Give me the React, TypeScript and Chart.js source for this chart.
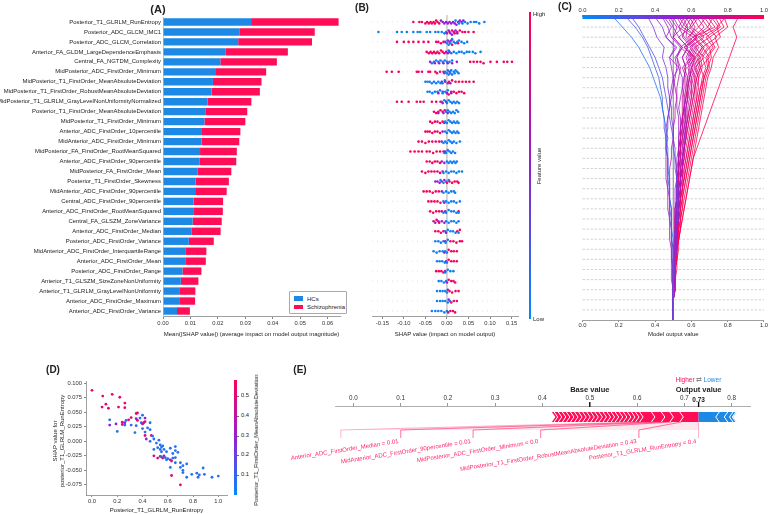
import React, { useEffect, useRef } from "react";
import { Chart, registerables } from "chart.js";
Chart.register(...registerables);

const FONT = "'Liberation Sans', Arial, Helvetica, sans-serif";
Chart.defaults.font.family = FONT;
Chart.defaults.color = "#333";

const BLUE = "#1E88E5";
const RED = "#FF0D57";

// ---------------- Panel A: mean |SHAP| ----------------
const featureNames = [
  "Posterior_T1_GLRLM_RunEntropy",
  "Posterior_ADC_GLCM_IMC1",
  "Posterior_ADC_GLCM_Correlation",
  "Anterior_FA_GLDM_LargeDependenceEmphasis",
  "Central_FA_NGTDM_Complexity",
  "MidPosterior_ADC_FirstOrder_Minimum",
  "MidPosterior_T1_FirstOrder_MeanAbsoluteDeviation",
  "MidPosterior_T1_FirstOrder_RobustMeanAbsoluteDeviation",
  "MidPosterior_T1_GLRLM_GrayLevelNonUniformityNormalized",
  "Posterior_T1_FirstOrder_MeanAbsoluteDeviation",
  "MidPosterior_T1_FirstOrder_Minimum",
  "Anterior_ADC_FirstOrder_10percentile",
  "MidAnterior_ADC_FirstOrder_Minimum",
  "MidPosterior_FA_FirstOrder_RootMeanSquared",
  "Anterior_ADC_FirstOrder_90percentile",
  "MidPosterior_FA_FirstOrder_Mean",
  "Posterior_T1_FirstOrder_Skewness",
  "MidAnterior_ADC_FirstOrder_90percentile",
  "Central_ADC_FirstOrder_90percentile",
  "Anterior_ADC_FirstOrder_RootMeanSquared",
  "Central_FA_GLSZM_ZoneVariance",
  "Anterior_ADC_FirstOrder_Median",
  "Posterior_ADC_FirstOrder_Variance",
  "MidAnterior_ADC_FirstOrder_InterquartileRange",
  "Anterior_ADC_FirstOrder_Mean",
  "Posterior_ADC_FirstOrder_Range",
  "Anterior_T1_GLSZM_SizeZoneNonUniformity",
  "Anterior_T1_GLRLM_GrayLevelNonUniformity",
  "Anterior_ADC_FirstOrder_Maximum",
  "Anterior_ADC_FirstOrder_Variance",
];
const hcImportance = [
  0.0321, 0.0278, 0.0274, 0.0229, 0.0209, 0.019, 0.0182, 0.0177, 0.0163, 0.0154,
  0.0151, 0.0142, 0.0141, 0.0135, 0.0134, 0.0125, 0.0119, 0.0117, 0.0111, 0.011,
  0.0108, 0.0105, 0.0094, 0.0081, 0.0081, 0.0071, 0.0065, 0.0059, 0.0059, 0.0051,
];
const szImportance = [
  0.0319, 0.0275, 0.0269, 0.0226, 0.0206, 0.0186, 0.0177, 0.0176, 0.0159, 0.0153,
  0.0149, 0.014, 0.0137, 0.0134, 0.0133, 0.0124, 0.0121, 0.0115, 0.0108, 0.0108,
  0.0106, 0.0105, 0.0091, 0.0077, 0.0075, 0.0069, 0.0064, 0.0059, 0.0058, 0.0047,
];
const aTicks = [0, 0.01, 0.02, 0.03, 0.04, 0.05, 0.06];

// ---------------- Panel B: beeswarm ----------------
const beeHigh: number[][] = [
  [-0.078, -0.064, -0.058, -0.05, -0.046, -0.042, -0.038, -0.035, -0.031, -0.028, -0.025, -0.022, -0.018],
  [0.006, 0.012, 0.018, 0.024, 0.03, 0.036, 0.042, 0.05, 0.062],
  [-0.116, -0.1, -0.089, -0.078, -0.066, -0.054, -0.043, -0.025, -0.02, -0.014, -0.008, 0.012, 0.026],
  [-0.047, -0.042, -0.038, -0.034, -0.03, -0.026, -0.022, -0.018, -0.014, -0.01, -0.006],
  [0.054, 0.062, 0.07, 0.078, 0.085, 0.101, 0.116, 0.132, 0.14, 0.151],
  [-0.14, -0.128, -0.112, -0.07, -0.066, -0.058, -0.043, -0.039, -0.027, -0.023, -0.016, -0.008],
  [0.005, 0.012, 0.02, 0.028, 0.036, 0.044, 0.052, 0.062],
  [0.004, 0.01, 0.016, 0.022, 0.028, 0.034, 0.04],
  [-0.116, -0.105, -0.089, -0.07, -0.062, -0.054, -0.035, -0.025, -0.015],
  [-0.03, -0.025, -0.02, -0.015, -0.01, -0.005],
  [-0.039, -0.034, -0.028, -0.022, -0.016, -0.01],
  [-0.05, -0.045, -0.04, -0.034, -0.028, -0.022, -0.016],
  [-0.066, -0.058, -0.05, -0.042, -0.034, -0.026, -0.018],
  [-0.085, -0.075, -0.066, -0.058, -0.047, -0.04, -0.032, -0.024, -0.016, -0.008],
  [-0.047, -0.04, -0.034, -0.028, -0.022, -0.016],
  [-0.058, -0.05, -0.043, -0.036, -0.029, -0.022, -0.016],
  [0.0, 0.006, 0.012, 0.018, 0.024, 0.027],
  [-0.054, -0.047, -0.04, -0.033, -0.026, -0.019],
  [-0.043, -0.036, -0.029, -0.022, -0.015],
  [-0.039, -0.032, -0.025, -0.018, -0.012, 0.027],
  [-0.031, -0.024, -0.018],
  [-0.027, -0.02, -0.014, -0.008, 0.024, 0.03],
  [0.008, 0.015, 0.022, 0.03, 0.035],
  [0.004, 0.01, 0.016, 0.023],
  [0.004, 0.01, 0.016, 0.023],
  [-0.025, -0.019, -0.013, -0.008],
  [0.004, 0.01, 0.015, 0.019],
  [0.006, 0.012, 0.02, 0.027],
  [0.01, 0.016, 0.023],
  [0.008, 0.014, 0.019],
];
const beeMid: number[][] = [
  [-0.014, -0.01, -0.006, -0.002, 0.002, 0.006, 0.01, 0.014, 0.018, 0.022, 0.026, 0.03, 0.034, 0.038],
  [0.0, 0.004, 0.008, 0.012, 0.016, 0.02, 0.024],
  [-0.004, 0.002, 0.006, 0.01],
  [-0.002, 0.002, 0.006],
  [-0.039, -0.028, -0.018, -0.008, 0.002, 0.012, 0.023],
  [-0.006, 0.006],
  [-0.012, -0.004, 0.002, 0.008],
  [-0.02, -0.01, 0.0, 0.01],
  [-0.01, -0.002],
  [-0.02, -0.008, 0.002],
  [-0.006],
  [-0.01],
  [-0.012],
  [-0.004],
  [-0.012, -0.006],
  [-0.01],
  [-0.027, -0.022, -0.017, -0.012, -0.006],
  [-0.012],
  [-0.006],
  [-0.004],
  [-0.027, -0.02, -0.012, -0.006],
  [-0.002],
  [-0.004],
  [-0.006],
  [-0.002],
  [-0.004],
  [0.0],
  [0.002],
  [0.004],
  [0.003],
];
const beeLow: number[][] = [
  [0.02, 0.028, 0.036, 0.042, 0.048, 0.055, 0.063, 0.068, 0.075, 0.087],
  [-0.159, -0.116, -0.105, -0.093, -0.078, -0.068, -0.062, -0.047, -0.039, -0.027, -0.02, -0.012, -0.006, -0.002],
  [0.0, 0.004, 0.008, 0.012, 0.016, 0.02, 0.024, 0.028, 0.034, 0.04, 0.047],
  [0.004, 0.01, 0.016, 0.022, 0.028, 0.034, 0.04, 0.046, 0.052, 0.06, 0.066, 0.078],
  [-0.035, -0.03, -0.025, -0.02, -0.015, -0.01, -0.005, 0.0, 0.006, 0.012],
  [-0.004, 0.0, 0.002, 0.004, 0.008, 0.01, 0.012, 0.016, 0.018, 0.02, 0.024, 0.027],
  [-0.05, -0.045, -0.04, -0.035, -0.03, -0.025, -0.02, -0.015, -0.01, -0.005],
  [-0.045, -0.04, -0.034, -0.028, -0.022, -0.016, -0.01, -0.004, 0.002],
  [-0.012, -0.006, 0.0, 0.004, 0.008, 0.012, 0.016, 0.02, 0.024, 0.028],
  [-0.002, 0.002, 0.006, 0.01, 0.014, 0.018, 0.022, 0.026],
  [-0.004, 0.0, 0.004, 0.008, 0.012, 0.016, 0.02, 0.024, 0.027],
  [-0.004, 0.0, 0.004, 0.008, 0.012, 0.016, 0.02, 0.024, 0.027],
  [-0.008, -0.004, 0.0, 0.004, 0.008, 0.012, 0.016, 0.022, 0.03],
  [-0.006, -0.002, 0.002, 0.006, 0.01, 0.014, 0.019],
  [0.0, 0.004, 0.008, 0.012, 0.016, 0.02, 0.023],
  [-0.008, -0.002, 0.004, 0.01, 0.016, 0.022, 0.028, 0.035],
  [-0.015, -0.008, -0.002, 0.004],
  [-0.008, -0.002, 0.004, 0.01, 0.016, 0.019],
  [-0.008, -0.002, 0.004, 0.01, 0.016, 0.022, 0.03],
  [-0.008, -0.002, 0.004, 0.01, 0.016, 0.022, 0.027],
  [-0.002, 0.004, 0.01, 0.016, 0.022, 0.027],
  [-0.004, 0.002, 0.008, 0.014, 0.02, 0.027],
  [-0.027, -0.02, -0.014, -0.008, -0.003, 0.002],
  [-0.031, -0.024, -0.017, -0.01, -0.004, 0.0],
  [-0.023, -0.017, -0.011, -0.005, 0.0],
  [-0.004, 0.002, 0.008, 0.015],
  [-0.019, -0.013, -0.007, -0.002],
  [-0.023, -0.016, -0.01, -0.004, 0.0],
  [-0.023, -0.016, -0.01, -0.004, 0.002, 0.007],
  [-0.035, -0.027, -0.02, -0.013, -0.006, 0.0],
];
const bTicks = [-0.15, -0.1, -0.05, 0, 0.05, 0.1, 0.15];

// ---------------- Panel C: decision plot (bottom -> top cumulative output) ----------------
const decisionPaths: number[][] = [
  [0.5,0.5,0.5,0.5,0.5,0.5,0.5,0.5,0.5,0.49,0.49,0.49,0.48,0.48,0.48,0.47,0.47,0.47,0.46,0.46,0.45,0.44,0.43,0.41,0.39,0.37,0.34,0.31,0.27,0.22,0.17],
  [0.5,0.5,0.5,0.5,0.5,0.5,0.5,0.5,0.49,0.49,0.49,0.48,0.48,0.48,0.47,0.47,0.47,0.46,0.46,0.45,0.45,0.44,0.44,0.43,0.42,0.4,0.38,0.36,0.33,0.29,0.24],
  [0.5,0.5,0.5,0.5,0.5,0.51,0.51,0.51,0.51,0.51,0.52,0.52,0.52,0.52,0.52,0.51,0.51,0.5,0.5,0.49,0.48,0.47,0.46,0.45,0.44,0.42,0.4,0.37,0.34,0.31,0.27],
  [0.5,0.5,0.5,0.51,0.51,0.51,0.51,0.52,0.52,0.52,0.53,0.53,0.53,0.53,0.52,0.52,0.51,0.51,0.5,0.5,0.49,0.49,0.48,0.47,0.47,0.46,0.44,0.45,0.41,0.39,0.36],
  [0.5,0.5,0.5,0.5,0.5,0.5,0.49,0.49,0.49,0.49,0.48,0.48,0.48,0.47,0.47,0.47,0.47,0.46,0.47,0.46,0.47,0.48,0.48,0.49,0.5,0.49,0.48,0.51,0.46,0.44,0.4],
  [0.5,0.5,0.5,0.5,0.51,0.51,0.51,0.51,0.52,0.52,0.52,0.53,0.53,0.54,0.54,0.55,0.55,0.56,0.56,0.57,0.57,0.56,0.56,0.55,0.55,0.53,0.52,0.54,0.49,0.47,0.44],
  [0.5,0.5,0.5,0.5,0.5,0.5,0.51,0.51,0.51,0.51,0.51,0.51,0.52,0.52,0.52,0.52,0.53,0.53,0.53,0.54,0.54,0.53,0.54,0.55,0.56,0.57,0.55,0.58,0.53,0.5,0.47],
  [0.5,0.5,0.5,0.5,0.5,0.51,0.51,0.51,0.52,0.52,0.52,0.53,0.53,0.53,0.54,0.54,0.55,0.55,0.56,0.56,0.57,0.57,0.58,0.58,0.59,0.6,0.58,0.61,0.56,0.53,0.5],
  [0.5,0.5,0.5,0.5,0.5,0.5,0.5,0.5,0.49,0.49,0.49,0.49,0.48,0.48,0.48,0.48,0.49,0.49,0.5,0.5,0.51,0.51,0.52,0.52,0.53,0.54,0.52,0.55,0.5,0.55,0.52],
  [0.5,0.5,0.5,0.51,0.51,0.51,0.51,0.51,0.52,0.52,0.52,0.52,0.53,0.53,0.54,0.54,0.54,0.55,0.55,0.56,0.56,0.57,0.58,0.58,0.59,0.61,0.59,0.62,0.57,0.58,0.55],
  [0.5,0.5,0.5,0.5,0.5,0.5,0.5,0.51,0.51,0.51,0.51,0.52,0.52,0.52,0.53,0.53,0.53,0.53,0.54,0.54,0.55,0.55,0.55,0.56,0.56,0.57,0.55,0.58,0.53,0.6,0.57],
  [0.5,0.5,0.5,0.5,0.51,0.51,0.51,0.52,0.52,0.52,0.53,0.53,0.54,0.54,0.55,0.55,0.56,0.56,0.57,0.57,0.58,0.59,0.6,0.6,0.61,0.63,0.61,0.64,0.59,0.62,0.59],
  [0.5,0.5,0.5,0.5,0.5,0.5,0.51,0.51,0.51,0.51,0.52,0.52,0.52,0.53,0.53,0.53,0.54,0.54,0.55,0.56,0.57,0.57,0.58,0.59,0.6,0.62,0.6,0.63,0.58,0.64,0.61],
  [0.5,0.5,0.5,0.5,0.5,0.51,0.51,0.51,0.51,0.52,0.52,0.52,0.52,0.53,0.53,0.54,0.55,0.56,0.57,0.58,0.59,0.6,0.61,0.62,0.62,0.64,0.62,0.66,0.61,0.67,0.63],
  [0.5,0.5,0.5,0.5,0.51,0.51,0.51,0.51,0.52,0.52,0.52,0.53,0.53,0.54,0.54,0.55,0.56,0.56,0.57,0.58,0.59,0.6,0.61,0.62,0.63,0.65,0.64,0.67,0.62,0.69,0.65],
  [0.5,0.5,0.5,0.5,0.5,0.5,0.51,0.51,0.52,0.52,0.53,0.53,0.54,0.55,0.55,0.56,0.57,0.58,0.59,0.6,0.61,0.62,0.63,0.64,0.64,0.66,0.65,0.69,0.64,0.71,0.67],
  [0.5,0.5,0.5,0.51,0.51,0.51,0.51,0.52,0.52,0.52,0.53,0.53,0.54,0.54,0.55,0.55,0.56,0.57,0.58,0.59,0.6,0.61,0.62,0.62,0.63,0.65,0.63,0.66,0.61,0.73,0.69],
  [0.5,0.5,0.5,0.5,0.5,0.51,0.51,0.51,0.52,0.52,0.53,0.53,0.54,0.55,0.56,0.57,0.58,0.59,0.6,0.61,0.62,0.63,0.64,0.65,0.66,0.68,0.66,0.7,0.65,0.75,0.71],
  [0.5,0.5,0.5,0.5,0.51,0.51,0.52,0.52,0.53,0.53,0.54,0.54,0.55,0.56,0.57,0.58,0.59,0.6,0.61,0.62,0.63,0.64,0.65,0.66,0.67,0.69,0.68,0.72,0.68,0.76,0.73],
  [0.5,0.5,0.5,0.51,0.51,0.51,0.52,0.52,0.53,0.54,0.54,0.55,0.56,0.57,0.58,0.59,0.6,0.61,0.62,0.63,0.64,0.65,0.66,0.67,0.68,0.7,0.69,0.73,0.7,0.78,0.75],
  [0.5,0.5,0.5,0.5,0.51,0.51,0.52,0.52,0.53,0.54,0.55,0.56,0.57,0.58,0.59,0.6,0.61,0.62,0.63,0.64,0.65,0.66,0.67,0.68,0.69,0.71,0.72,0.75,0.73,0.8,0.78],
  [0.5,0.5,0.5,0.51,0.51,0.52,0.52,0.53,0.53,0.54,0.55,0.56,0.57,0.58,0.59,0.6,0.61,0.63,0.65,0.67,0.69,0.71,0.73,0.75,0.77,0.79,0.81,0.83,0.85,0.83,0.86],
  [0.5,0.5,0.5,0.5,0.5,0.5,0.5,0.51,0.51,0.51,0.51,0.51,0.52,0.52,0.52,0.53,0.53,0.53,0.54,0.54,0.55,0.56,0.57,0.58,0.59,0.6,0.62,0.57,0.64,0.59,0.62],
  [0.5,0.5,0.5,0.5,0.5,0.51,0.51,0.52,0.52,0.53,0.53,0.54,0.55,0.55,0.56,0.57,0.58,0.59,0.6,0.61,0.62,0.63,0.64,0.65,0.67,0.69,0.71,0.7,0.76,0.74,0.79],
  [0.5,0.5,0.5,0.5,0.49,0.49,0.49,0.49,0.48,0.48,0.48,0.47,0.47,0.47,0.46,0.46,0.46,0.46,0.46,0.47,0.47,0.48,0.49,0.5,0.51,0.52,0.51,0.55,0.5,0.52,0.48],
  [0.5,0.5,0.5,0.5,0.5,0.5,0.5,0.51,0.51,0.51,0.51,0.52,0.52,0.52,0.53,0.53,0.54,0.54,0.55,0.55,0.56,0.56,0.57,0.57,0.58,0.59,0.57,0.6,0.55,0.57,0.53],
  [0.5,0.5,0.5,0.5,0.5,0.5,0.51,0.51,0.51,0.52,0.52,0.52,0.53,0.53,0.54,0.55,0.55,0.56,0.56,0.57,0.58,0.58,0.59,0.6,0.6,0.58,0.62,0.56,0.63,0.55,0.58],
  [0.5,0.5,0.5,0.5,0.5,0.51,0.51,0.51,0.52,0.52,0.53,0.53,0.53,0.54,0.54,0.55,0.55,0.56,0.57,0.57,0.58,0.59,0.6,0.61,0.62,0.6,0.65,0.59,0.67,0.6,0.64],
  [0.5,0.5,0.5,0.5,0.51,0.51,0.51,0.52,0.52,0.53,0.53,0.54,0.54,0.55,0.56,0.56,0.57,0.58,0.59,0.6,0.61,0.62,0.63,0.63,0.64,0.62,0.67,0.62,0.7,0.64,0.68],
  [0.5,0.5,0.5,0.51,0.51,0.51,0.52,0.52,0.53,0.53,0.54,0.55,0.55,0.56,0.57,0.58,0.59,0.6,0.61,0.62,0.63,0.64,0.65,0.66,0.67,0.65,0.7,0.66,0.74,0.69,0.72],
  [0.5,0.5,0.5,0.5,0.5,0.5,0.5,0.5,0.51,0.51,0.51,0.51,0.51,0.51,0.52,0.52,0.52,0.53,0.53,0.53,0.53,0.52,0.52,0.51,0.5,0.53,0.48,0.52,0.46,0.49,0.45],
  [0.5,0.5,0.5,0.5,0.5,0.5,0.5,0.5,0.51,0.51,0.51,0.51,0.52,0.52,0.52,0.53,0.53,0.54,0.54,0.55,0.55,0.56,0.57,0.58,0.58,0.56,0.61,0.56,0.63,0.57,0.6],
  [0.5,0.5,0.5,0.5,0.5,0.5,0.51,0.51,0.51,0.51,0.52,0.52,0.52,0.52,0.53,0.53,0.53,0.54,0.54,0.55,0.55,0.56,0.56,0.57,0.57,0.55,0.6,0.54,0.61,0.53,0.56],
];
const cTicks = [0, 0.2, 0.4, 0.6, 0.8, 1.0];

// ---------------- Panel D: dependence plot ----------------
const dependX = [0.0,0.085,0.16,0.22,0.11,0.08,0.13,0.21,0.26,0.26,0.14,0.14,0.19,0.2,0.24,0.24,0.26,0.27,0.29,0.26,0.31,0.31,0.34,0.35,0.35,0.35,0.36,0.36,0.38,0.4,0.39,0.4,0.4,0.41,0.42,0.42,0.44,0.46,0.46,0.42,0.42,0.43,0.46,0.47,0.48,0.49,0.51,0.53,0.54,0.49,0.52,0.54,0.55,0.56,0.55,0.57,0.59,0.62,0.66,0.66,0.68,0.64,0.49,0.52,0.54,0.55,0.56,0.57,0.58,0.59,0.6,0.62,0.63,0.64,0.66,0.62,0.66,0.7,0.72,0.7,0.72,0.75,0.63,0.72,0.79,0.85,0.88,0.89,0.75,0.84,0.95,1.0,0.7,0.83];
const dependY = [0.088,0.078,0.081,0.076,0.064,0.059,0.057,0.059,0.066,0.058,0.037,0.028,0.03,0.017,0.029,0.033,0.032,0.036,0.037,0.028,0.041,0.028,0.015,0.027,0.039,0.048,0.049,0.036,0.04,0.045,0.032,0.03,0.022,0.032,0.04,0.034,0.023,0.02,0.032,0.016,0.01,0.004,0.0,0.01,0.009,0.004,-0.003,0.002,-0.006,-0.014,-0.011,-0.014,-0.01,-0.008,-0.018,-0.014,-0.018,-0.012,-0.009,-0.016,-0.019,-0.021,-0.025,-0.029,-0.026,-0.027,-0.029,-0.025,-0.028,-0.032,-0.03,-0.032,-0.034,-0.029,-0.028,-0.045,-0.037,-0.037,-0.042,-0.045,-0.05,-0.039,-0.059,-0.054,-0.057,-0.058,-0.046,-0.057,-0.062,-0.062,-0.062,-0.06,-0.075,-0.055];
const dependFeat = [0.52,0.5,0.54,0.5,0.48,0.52,0.5,0.47,0.53,0.5,0.08,0.3,0.28,0.06,0.5,0.47,0.3,0.08,0.52,0.07,0.5,0.08,0.06,0.07,0.3,0.55,0.5,0.48,0.08,0.07,0.06,0.5,0.07,0.5,0.3,0.47,0.07,0.06,0.08,0.07,0.5,0.3,0.07,0.5,0.06,0.07,0.08,0.06,0.07,0.06,0.08,0.07,0.06,0.07,0.08,0.07,0.06,0.07,0.08,0.06,0.07,0.08,0.5,0.48,0.52,0.07,0.5,0.47,0.06,0.07,0.08,0.3,0.5,0.07,0.06,0.07,0.08,0.06,0.07,0.06,0.07,0.08,0.52,0.07,0.06,0.08,0.07,0.06,0.07,0.08,0.06,0.07,0.55,0.07];
const dXTicks = [0, 0.2, 0.4, 0.6, 0.8, 1.0];
const dYTicks = [-0.075, -0.05, -0.025, 0, 0.025, 0.05, 0.075, 0.1];
const dColorTicks = [0.1, 0.2, 0.3, 0.4, 0.5];

// ---------------- Panel E: force plot ----------------
const forceBase = 0.5;
const forceOutput = 0.73;
const forceRedShap = [
  0.0086, 0.0086, 0.0086, 0.0086, 0.0086, 0.0086, 0.0086, 0.0086, 0.0086, 0.0086, 0.0086,
  0.0086, 0.0086, 0.0086, 0.0086, 0.0086, 0.0086, 0.0086, 0.0086, 0.0086, 0.0086, 0.0086,
  0.025, 0.021, 0.018, 0.021, 0.036,
];
const forceRedLabels = [
  "", "", "", "", "", "", "", "", "", "", "", "", "", "", "", "", "", "", "", "", "", "",
  "Anterior_ADC_FirstOrder_Median = 0.01",
  "MidAnterior_ADC_FirstOrder_90percentile = 0.01",
  "MidPosterior_ADC_FirstOrder_Minimum = 0.0",
  "MidPosterior_T1_FirstOrder_RobustMeanAbsoluteDeviation = 0.43",
  "Posterior_T1_GLRLM_RunEntropy = 0.4",
];
const forceBlueShap = [0.04, 0.018, 0.011, 0.006, 0.005];
const eTicks = [0, 0.1, 0.2, 0.3, 0.4, 0.5, 0.6, 0.7, 0.8];

// ---------------- helpers ----------------
const CSTOPS = [
  [0, 0, 138, 250],
  [0.5, 150, 30, 210],
  [1, 255, 0, 82],
];
function cmap(t: number): string {
  t = Math.max(0, Math.min(1, t));
  for (let i = 0; i < CSTOPS.length - 1; i++) {
    const a = CSTOPS[i], b = CSTOPS[i + 1];
    if (t <= b[0]) {
      const f = (t - a[0]) / (b[0] - a[0]);
      const r = Math.round(a[1] + (b[1] - a[1]) * f);
      const g = Math.round(a[2] + (b[2] - a[2]) * f);
      const bl = Math.round(a[3] + (b[3] - a[3]) * f);
      return `rgb(${r},${g},${bl})`;
    }
  }
  return "rgb(255,0,82)";
}
const GRAD = `linear-gradient(to top, ${cmap(0)}, ${cmap(0.5)}, ${cmap(1)})`;

function swarmPoints() {
  const pts: any[] = [];
  const cols: string[] = [];
  const binW = 0.009, step = 0.14;
  for (let r = 0; r < 30; r++) {
    const items: { v: number; c: number }[] = [];
    beeHigh[r].forEach((v) => items.push({ v, c: 0.95 }));
    beeMid[r].forEach((v) => items.push({ v, c: 0.5 }));
    beeLow[r].forEach((v) => items.push({ v, c: 0.05 }));
    items.sort((a, b) => a.v - b.v);
    const counts = new Map<number, number>();
    items.forEach((it) => {
      const b = Math.round(it.v / binW);
      const k = counts.get(b) || 0;
      counts.set(b, k + 1);
      const off = (k % 2 === 1 ? 1 : -1) * Math.ceil(k / 2) * step;
      pts.push({ x: it.v, y: r + 0.5 + Math.max(-0.36, Math.min(0.36, off)) });
      cols.push(cmap(it.c));
    });
  }
  return { pts, cols };
}

const fixTicks = (vals: number[]) => (s: any) => {
  s.ticks = vals.map((v) => ({ value: v }));
};

// ---------------- plugins ----------------
const beePlugin = {
  id: "beeBg",
  beforeDatasetsDraw(chart: any) {
    const { ctx, chartArea, scales } = chart;
    ctx.save();
    ctx.strokeStyle = "#cccccc";
    ctx.lineWidth = 0.6;
    ctx.setLineDash([1, 4]);
    for (let r = 0; r < 30; r++) {
      const y = scales.y.getPixelForValue(r + 0.5);
      ctx.beginPath();
      ctx.moveTo(chartArea.left, y);
      ctx.lineTo(chartArea.right, y);
      ctx.stroke();
    }
    ctx.setLineDash([]);
    ctx.strokeStyle = "#999";
    ctx.lineWidth = 0.8;
    const x0 = scales.x.getPixelForValue(0);
    ctx.beginPath();
    ctx.moveTo(x0, chartArea.top - 2);
    ctx.lineTo(x0, chartArea.bottom);
    ctx.stroke();
    ctx.restore();
  },
};

const decisionPlugin = {
  id: "decisionBg",
  beforeDatasetsDraw(chart: any) {
    const { ctx, chartArea, scales } = chart;
    ctx.save();
    ctx.strokeStyle = "#b5b5b5";
    ctx.lineWidth = 0.6;
    ctx.setLineDash([2.5, 1.5]);
    for (let i = 1; i < 30; i++) {
      const y = scales.y.getPixelForValue(i);
      ctx.beginPath();
      ctx.moveTo(chartArea.left, y);
      ctx.lineTo(chartArea.right, y);
      ctx.stroke();
    }
    ctx.setLineDash([]);
    ctx.strokeStyle = "#777";
    ctx.lineWidth = 0.9;
    const xm = scales.x.getPixelForValue(0.5);
    ctx.beginPath();
    ctx.moveTo(xm, chartArea.top);
    ctx.lineTo(xm, chartArea.bottom);
    ctx.stroke();
    ctx.restore();
  },
  afterDatasetsDraw(chart: any) {
    const { ctx, chartArea, scales } = chart;
    const x0 = scales.x.getPixelForValue(0);
    const x1 = scales.x.getPixelForValue(1);
    const g = ctx.createLinearGradient(x0, 0, x1, 0);
    g.addColorStop(0, cmap(0));
    g.addColorStop(0.5, cmap(0.5));
    g.addColorStop(1, cmap(1));
    ctx.save();
    ctx.fillStyle = g;
    ctx.fillRect(x0, chartArea.top - 2, x1 - x0, 4);
    ctx.restore();
  },
};

const forcePlugin = {
  id: "forcePlot",
  afterDraw(chart: any) {
    const { ctx, scales } = chart;
    const px = (v: number) => scales.x.getPixelForValue(v);
    const top = 72, bot = 82, mid = 77, d = 3.5, bracketY = 90, tickY = 98;
    const redTotal = forceRedShap.reduce((a, b) => a + b, 0);
    const redBounds = [forceOutput - redTotal];
    forceRedShap.forEach((s) => redBounds.push(redBounds[redBounds.length - 1] + s));
    const blueBounds = [forceOutput];
    forceBlueShap.forEach((s) => blueBounds.push(blueBounds[blueBounds.length - 1] + s));
    ctx.save();
    // connectors and labels
    ctx.font = `6px ${FONT}`;
    let right = px(forceOutput);
    for (let i = forceRedLabels.length - 1; i >= 0; i--) {
      const label = forceRedLabels[i];
      if (!label) continue;
      const w = ctx.measureText(label).width * 0.55;
      const bR = right, bL = right - w;
      const sL = px(redBounds[i]), sR = px(redBounds[i + 1]);
      ctx.fillStyle = "rgba(255,13,87,0.10)";
      ctx.beginPath();
      ctx.moveTo(sL, bot);
      ctx.lineTo(sR, bot);
      ctx.lineTo(bR, bracketY);
      ctx.lineTo(bL, bracketY);
      ctx.closePath();
      ctx.fill();
      ctx.strokeStyle = "rgba(255,13,87,0.45)";
      ctx.lineWidth = 0.7;
      ctx.beginPath();
      ctx.moveTo(sL, bot);
      ctx.lineTo(bL, bracketY);
      ctx.lineTo(bL, tickY);
      ctx.moveTo(sR, bot);
      ctx.lineTo(bR, bracketY);
      ctx.lineTo(bR, tickY);
      ctx.stroke();
      ctx.save();
      ctx.translate(bR - 2, 103);
      ctx.rotate((-9 * Math.PI) / 180);
      ctx.textAlign = "right";
      ctx.textBaseline = "alphabetic";
      ctx.fillStyle = "rgba(255,13,87,0.9)";
      ctx.fillText(label, 0, 0);
      ctx.restore();
      right = bL;
    }
    // red bar
    const rx0 = px(redBounds[0]), rx1 = px(forceOutput);
    ctx.fillStyle = RED;
    ctx.beginPath();
    ctx.moveTo(rx0, top);
    ctx.lineTo(rx1, top);
    ctx.lineTo(rx1, bot);
    ctx.lineTo(rx0, bot);
    ctx.lineTo(rx0 + d, mid);
    ctx.closePath();
    ctx.fill();
    ctx.strokeStyle = "#fff";
    ctx.lineWidth = 1;
    for (let i = 1; i < redBounds.length - 1; i++) {
      const x = px(redBounds[i]);
      ctx.beginPath();
      ctx.moveTo(x - d / 2, top);
      ctx.lineTo(x + d / 2, mid);
      ctx.lineTo(x - d / 2, bot);
      ctx.stroke();
    }
    // blue bar
    const bx0 = px(forceOutput), bx1 = px(blueBounds[blueBounds.length - 1]);
    ctx.fillStyle = BLUE;
    ctx.beginPath();
    ctx.moveTo(bx0, top);
    ctx.lineTo(bx1, top);
    ctx.lineTo(bx1 - d, mid);
    ctx.lineTo(bx1, bot);
    ctx.lineTo(bx0, bot);
    ctx.closePath();
    ctx.fill();
    for (let i = 1; i < blueBounds.length - 1; i++) {
      const x = px(blueBounds[i]);
      ctx.beginPath();
      ctx.moveTo(x + d / 2, top);
      ctx.lineTo(x - d / 2, mid);
      ctx.lineTo(x + d / 2, bot);
      ctx.stroke();
    }
    // base / output markers
    const xb = px(forceBase), xo = px(forceOutput);
    ctx.strokeStyle = "#000";
    ctx.lineWidth = 1.3;
    ctx.beginPath();
    ctx.moveTo(xb, 62);
    ctx.lineTo(xb, 67);
    ctx.moveTo(xo, 62);
    ctx.lineTo(xo, 67);
    ctx.stroke();
    ctx.fillStyle = "#222";
    ctx.textAlign = "center";
    ctx.textBaseline = "middle";
    ctx.font = `bold 6.5px ${FONT}`;
    ctx.fillText(forceOutput.toFixed(2), xo, 60.5);
    ctx.font = `bold 7.5px ${FONT}`;
    ctx.fillText("Base value", xb, 50);
    ctx.fillText("Output value", xo, 50);
    ctx.font = `6.5px ${FONT}`;
    ctx.textAlign = "right";
    ctx.fillStyle = RED;
    ctx.fillText("Higher", xo - 4, 40);
    ctx.textAlign = "center";
    ctx.fillStyle = "#888";
    ctx.fillText("\u21C4", xo + 0.5, 40);
    ctx.textAlign = "left";
    ctx.fillStyle = BLUE;
    ctx.fillText("Lower", xo + 5, 40);
    ctx.restore();
  },
};

// ---------------- text helper ----------------
function Txt(props: any) {
  const { x, y, children, size = 6, bold = false, color = "#222", rotate = 0, align = "center" } = props;
  const tx = align === "center" ? "-50%" : align === "right" ? "-100%" : "0";
  return (
    <div
      style={{
        position: "absolute",
        left: x,
        top: y,
        transform: `translate(${tx}, -50%) rotate(${rotate}deg)`,
        fontSize: size,
        fontWeight: bold ? 700 : 400,
        color,
        whiteSpace: "nowrap",
        lineHeight: 1,
        fontFamily: FONT,
      }}
    >
      {children}
    </div>
  );
}

export default function App() {
  const refA = useRef<HTMLCanvasElement>(null);
  const refB = useRef<HTMLCanvasElement>(null);
  const refC = useRef<HTMLCanvasElement>(null);
  const refD = useRef<HTMLCanvasElement>(null);
  const refE = useRef<HTMLCanvasElement>(null);

  useEffect(() => {
    const charts: Chart[] = [];
    const tickFont = { size: 5.8 };

    // A
    charts.push(
      new Chart(refA.current!, {
        type: "bar",
        data: {
          labels: featureNames,
          datasets: [
            { label: "HCs", data: hcImportance, backgroundColor: BLUE, barPercentage: 0.74, categoryPercentage: 1 },
            { label: "Schizophrenia", data: szImportance, backgroundColor: RED, barPercentage: 0.74, categoryPercentage: 1 },
          ],
        },
        options: {
          responsive: false,
          animation: false,
          indexAxis: "y",
          layout: { padding: { top: 17, right: 5, left: 0, bottom: 0 } },
          plugins: { legend: { display: false }, tooltip: { enabled: false } },
          scales: {
            x: {
              stacked: true,
              min: 0,
              max: 0.0645,
              afterBuildTicks: fixTicks(aTicks),
              afterFit: (s: any) => { s.height = 22; },
              ticks: { callback: (v: any) => Number(v).toFixed(2), font: tickFont, color: "#333", padding: 1, maxRotation: 0 },
              grid: { drawOnChartArea: false, tickLength: 3, color: "#888" },
              border: { color: "#888", width: 0.8 },
              title: { display: true, text: "Mean(|SHAP value|) (average impact on model output magnitude)", font: { size: 6 }, color: "#222", padding: 0 },
            },
            y: {
              stacked: true,
              afterFit: (s: any) => { s.width = 163; },
              ticks: { autoSkip: false, font: { size: 5.9 }, color: "#222", padding: 2 },
              grid: { display: false, drawTicks: false },
              border: { color: "#bbb", width: 0.8 },
            },
          },
        } as any,
      })
    );

    // B
    const sw = swarmPoints();
    charts.push(
      new Chart(refB.current!, {
        type: "scatter",
        data: {
          datasets: [
            { data: sw.pts, backgroundColor: sw.cols, pointRadius: 1.3, pointBorderWidth: 0, pointHoverRadius: 1.3 },
          ],
        },
        options: {
          responsive: false,
          animation: false,
          layout: { padding: { top: 17, right: 5, left: 27, bottom: 0 } },
          plugins: { legend: { display: false }, tooltip: { enabled: false } },
          scales: {
            x: {
              min: -0.174,
              max: 0.165,
              afterBuildTicks: fixTicks(bTicks),
              afterFit: (s: any) => { s.height = 22; },
              ticks: { callback: (v: any) => Number(v).toFixed(2), font: tickFont, color: "#333", padding: 1, maxRotation: 0 },
              grid: { drawOnChartArea: false, tickLength: 3, color: "#888" },
              border: { color: "#888", width: 0.8 },
              title: { display: true, text: "SHAP value (impact on model output)", font: { size: 6 }, color: "#222", padding: 0 },
            },
            y: { display: false, min: 0, max: 30, reverse: true },
          },
        } as any,
        plugins: [beePlugin],
      })
    );

    // C
    charts.push(
      new Chart(refC.current!, {
        type: "scatter",
        data: {
          datasets: decisionPaths.map((path) => ({
            data: path.map((v, i) => ({ x: v, y: i })),
            showLine: true,
            borderColor: cmap((path[path.length - 1] - 0.1) / 0.64),
            borderWidth: 0.8,
            pointRadius: 0,
            tension: 0,
          })),
        },
        options: {
          responsive: false,
          animation: false,
          layout: { padding: { top: 0, right: 4, left: 37.5, bottom: 0 } },
          plugins: { legend: { display: false }, tooltip: { enabled: false } },
          scales: {
            x: {
              min: 0,
              max: 1,
              position: "bottom",
              afterBuildTicks: fixTicks(cTicks),
              afterFit: (s: any) => { s.height = 18; },
              ticks: { callback: (v: any) => Number(v).toFixed(1), font: tickFont, color: "#333", padding: 0, maxRotation: 0 },
              grid: { drawOnChartArea: false, tickLength: 2, color: "#888" },
              border: { color: "#888", width: 0.8 },
              title: { display: true, text: "Model output value", font: { size: 6 }, color: "#222", padding: 0 },
            },
            x2: {
              type: "linear",
              min: 0,
              max: 1,
              position: "top",
              afterBuildTicks: fixTicks(cTicks),
              afterFit: (s: any) => { s.height = 17; },
              ticks: { callback: (v: any) => Number(v).toFixed(1), font: tickFont, color: "#333", padding: 1, maxRotation: 0 },
              grid: { drawOnChartArea: false, tickLength: 2, color: "#888" },
              border: { display: false },
            },
            y: { display: false, min: 0, max: 30 },
          },
        } as any,
        plugins: [decisionPlugin],
      })
    );

    // D
    charts.push(
      new Chart(refD.current!, {
        type: "scatter",
        data: {
          datasets: [
            {
              data: dependX.map((x, i) => ({ x, y: dependY[i] })),
              backgroundColor: dependFeat.map((f) => cmap(f / 0.58)),
              pointRadius: 1.4,
              pointBorderWidth: 0,
            },
          ],
        },
        options: {
          responsive: false,
          animation: false,
          layout: { padding: { top: 41.7, right: 5, left: 0, bottom: 0 } },
          plugins: { legend: { display: false }, tooltip: { enabled: false } },
          scales: {
            x: {
              min: -0.0475,
              max: 1.069,
              afterBuildTicks: fixTicks(dXTicks),
              afterFit: (s: any) => { s.height = 19; },
              ticks: { callback: (v: any) => Number(v).toFixed(1), font: tickFont, color: "#333", padding: 1, maxRotation: 0 },
              grid: { drawOnChartArea: false, tickLength: 2, color: "#888" },
              border: { color: "#888", width: 0.8 },
              title: { display: true, text: "Posterior_T1_GLRLM_RunEntropy", font: { size: 6 }, color: "#222", padding: 0 },
            },
            y: {
              min: -0.0926,
              max: 0.1028,
              afterBuildTicks: fixTicks(dYTicks),
              afterFit: (s: any) => { s.width = 86; },
              ticks: { callback: (v: any) => Number(v).toFixed(3), font: tickFont, color: "#333", padding: 2 },
              grid: { drawOnChartArea: false, tickLength: 2, color: "#888" },
              border: { color: "#888", width: 0.8 },
            },
          },
        } as any,
      })
    );

    // E
    charts.push(
      new Chart(refE.current!, {
        type: "scatter",
        data: { datasets: [{ data: [] }] },
        options: {
          responsive: false,
          animation: false,
          layout: { padding: { top: 52, right: 19, left: 55, bottom: 0 } },
          plugins: { legend: { display: false }, tooltip: { enabled: false } },
          scales: {
            x: {
              min: -0.0387,
              max: 0.8387,
              position: "top",
              afterBuildTicks: fixTicks(eTicks),
              afterFit: (s: any) => { s.height = 14; },
              ticks: { callback: (v: any) => Number(v).toFixed(1), font: { size: 6.3 }, color: "#333", padding: 1, maxRotation: 0 },
              grid: { drawOnChartArea: false, tickLength: 3, color: "#999" },
              border: { color: "#999", width: 0.8 },
            },
            y: { display: false, min: 0, max: 1 },
          },
        } as any,
        plugins: [forcePlugin],
      })
    );

    return () => charts.forEach((c) => c.destroy());
  }, []);

  const cv = (left: number, top: number, w: number, h: number) => ({
    position: "absolute" as const,
    left,
    top,
    width: w,
    height: h,
  });

  return (
    <div style={{ position: "fixed", left: 0, top: 0, width: 769, height: 514, background: "#fff", overflow: "hidden", fontFamily: FONT }}>
      <canvas ref={refA} width={345} height={338} style={cv(0, 0, 345, 338)} />
      <canvas ref={refB} width={178} height={338} style={cv(345, 0, 178, 338)} />
      <canvas ref={refC} width={224} height={338} style={cv(545, 0, 224, 338)} />
      <canvas ref={refD} width={232} height={174} style={cv(0, 340, 232, 174)} />
      <canvas ref={refE} width={489} height={174} style={cv(280, 340, 489, 174)} />

      {/* panel letters */}
      <Txt x={158} y={9} size={11} bold>(A)</Txt>
      <Txt x={362} y={8} size={10} bold>(B)</Txt>
      <Txt x={565} y={7} size={10} bold>(C)</Txt>
      <Txt x={53} y={370} size={10} bold>(D)</Txt>
      <Txt x={300} y={370} size={10} bold>(E)</Txt>

      {/* legend A */}
      <div style={{ position: "absolute", left: 289, top: 291, width: 58, height: 23, border: "0.8px solid #aaa", borderRadius: 1, background: "#fff", boxSizing: "border-box" }} />
      <div style={{ position: "absolute", left: 294, top: 296, width: 9, height: 4.5, background: BLUE }} />
      <div style={{ position: "absolute", left: 294, top: 304.5, width: 9, height: 4.5, background: RED }} />
      <Txt x={307} y={298.5} size={6} align="left">HCs</Txt>
      <Txt x={307} y={307} size={6} align="left">Schizophrenia</Txt>

      {/* colorbar B */}
      <div style={{ position: "absolute", left: 529, top: 12, width: 2, height: 307, background: GRAD }} />
      <Txt x={533} y={14} size={6} align="left">High</Txt>
      <Txt x={533} y={319} size={6} align="left">Low</Txt>
      <Txt x={539} y={166} size={6} rotate={-90}>Feature value</Txt>

      {/* D y title */}
      <Txt x={55} y={441} size={6} rotate={-90}>SHAP value for</Txt>
      <Txt x={62} y={441} size={6} rotate={-90}>posterior_T1_GLRLM_RunEntropy</Txt>

      {/* D colorbar */}
      <div style={{ position: "absolute", left: 234, top: 380, width: 3, height: 115, background: GRAD }} />
      {dColorTicks.map((v) => (
        <React.Fragment key={v}>
          <div style={{ position: "absolute", left: 237, top: 495 - (v / 0.58) * 115, width: 2, height: 0.8, background: "#666" }} />
          <Txt x={241} y={495 - (v / 0.58) * 115} size={5.8} align="left">{v.toFixed(1)}</Txt>
        </React.Fragment>
      ))}
      <Txt x={256} y={440} size={6} rotate={-90}>Posterior_T1_FirstOrder_MeanAbsoluteDeviation</Txt>
    </div>
  );
}
